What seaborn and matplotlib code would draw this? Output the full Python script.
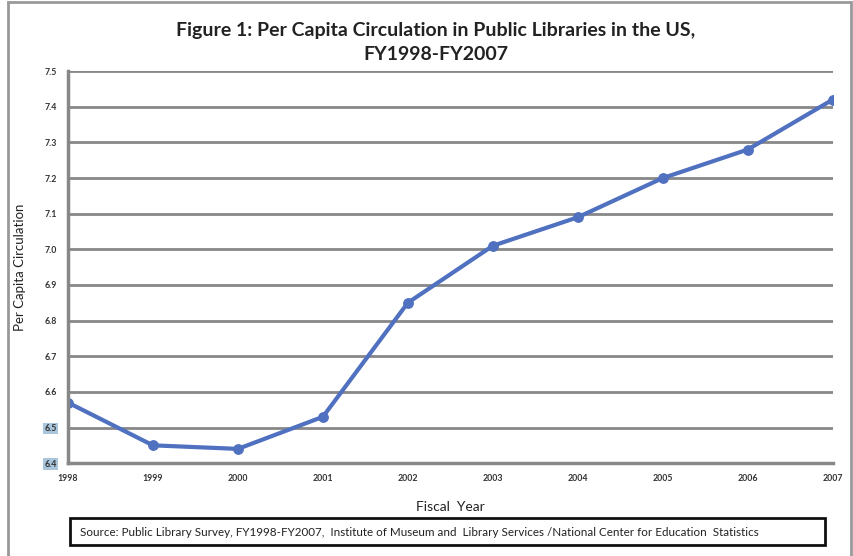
import matplotlib
matplotlib.use("Agg")
import matplotlib.pyplot as plt
from matplotlib.patches import Rectangle
import pandas as pd
import seaborn as sns

years = [1998, 1999, 2000, 2001, 2002, 2003, 2004, 2005, 2006, 2007]
circulation = [6.57, 6.45, 6.44, 6.53, 6.85, 7.01, 7.09, 7.20, 7.28, 7.42]
y_ticks = [6.4, 6.5, 6.6, 6.7, 6.8, 6.9, 7.0, 7.1, 7.2, 7.3, 7.4, 7.5]

sns.set_style("white")
plt.rcParams["font.family"] = ["Lato", "DejaVu Sans"]

df = pd.DataFrame({"year": years, "circ": circulation})

fig = plt.figure(figsize=(8.54, 5.56), dpi=100)
ax = fig.add_axes([0.0796, 0.167, 0.8954, 0.705])

sns.lineplot(data=df, x="year", y="circ", ax=ax, color="#5070C0", linewidth=3,
             marker="o", markersize=7, markeredgecolor="#5070C0")

ax.set_xlim(1998, 2007)
ax.set_ylim(6.4, 7.5)
ax.set_xticks(years)
ax.set_xticklabels([str(y) for y in years], fontsize=6.3, fontweight="bold", color="#333333")
ax.set_yticks(y_ticks)
ax.set_yticklabels([f"{v:.1f}" for v in y_ticks], fontsize=6.3, fontweight="bold", color="#333333")
for lab in ax.get_yticklabels():
    if lab.get_text() in ("6.4", "6.5"):
        lab.set_bbox(dict(facecolor="#a9c6dc", edgecolor="none", pad=1))

ax.yaxis.grid(True, color="#888888", linewidth=2)
ax.set_axisbelow(True)
for side in ["top", "right"]:
    ax.spines[side].set_visible(False)
ax.spines["left"].set_color("#888888")
ax.spines["left"].set_linewidth(2.5)
ax.spines["bottom"].set_color("#888888")
ax.spines["bottom"].set_linewidth(2.5)
ax.tick_params(axis="both", length=4, width=1.5, color="#888888", pad=4)

ax.set_xlabel("Fiscal  Year", fontsize=10, color="#222222", labelpad=13)
ax.set_ylabel("Per Capita Circulation", fontsize=9.5, color="#222222", labelpad=13)

fig.text(0.51, 0.945, "Figure 1: Per Capita Circulation in Public Libraries in the US,",
         ha="center", va="center", fontsize=14, fontweight="bold", color="#222222")
fig.text(0.51, 0.902, "FY1998-FY2007", ha="center", va="center",
         fontsize=14, fontweight="bold", color="#222222")

# outer frame
fig.patches.append(Rectangle((0.009, -0.01), 0.987, 1.006, transform=fig.transFigure,
                             fill=False, edgecolor="#999999", linewidth=2))

# source box
fig.text(0.094, 0.043,
         "Source: Public Library Survey, FY1998-FY2007,  Institute of Museum and  Library Services /National Center for Education  Statistics",
         ha="left", va="center", fontsize=8.4, color="#222222")
fig.patches.append(Rectangle((0.082, 0.019), 0.884, 0.049, transform=fig.transFigure,
                             fill=False, edgecolor="#111111", linewidth=2))

fig.savefig("out.png", dpi=100)
